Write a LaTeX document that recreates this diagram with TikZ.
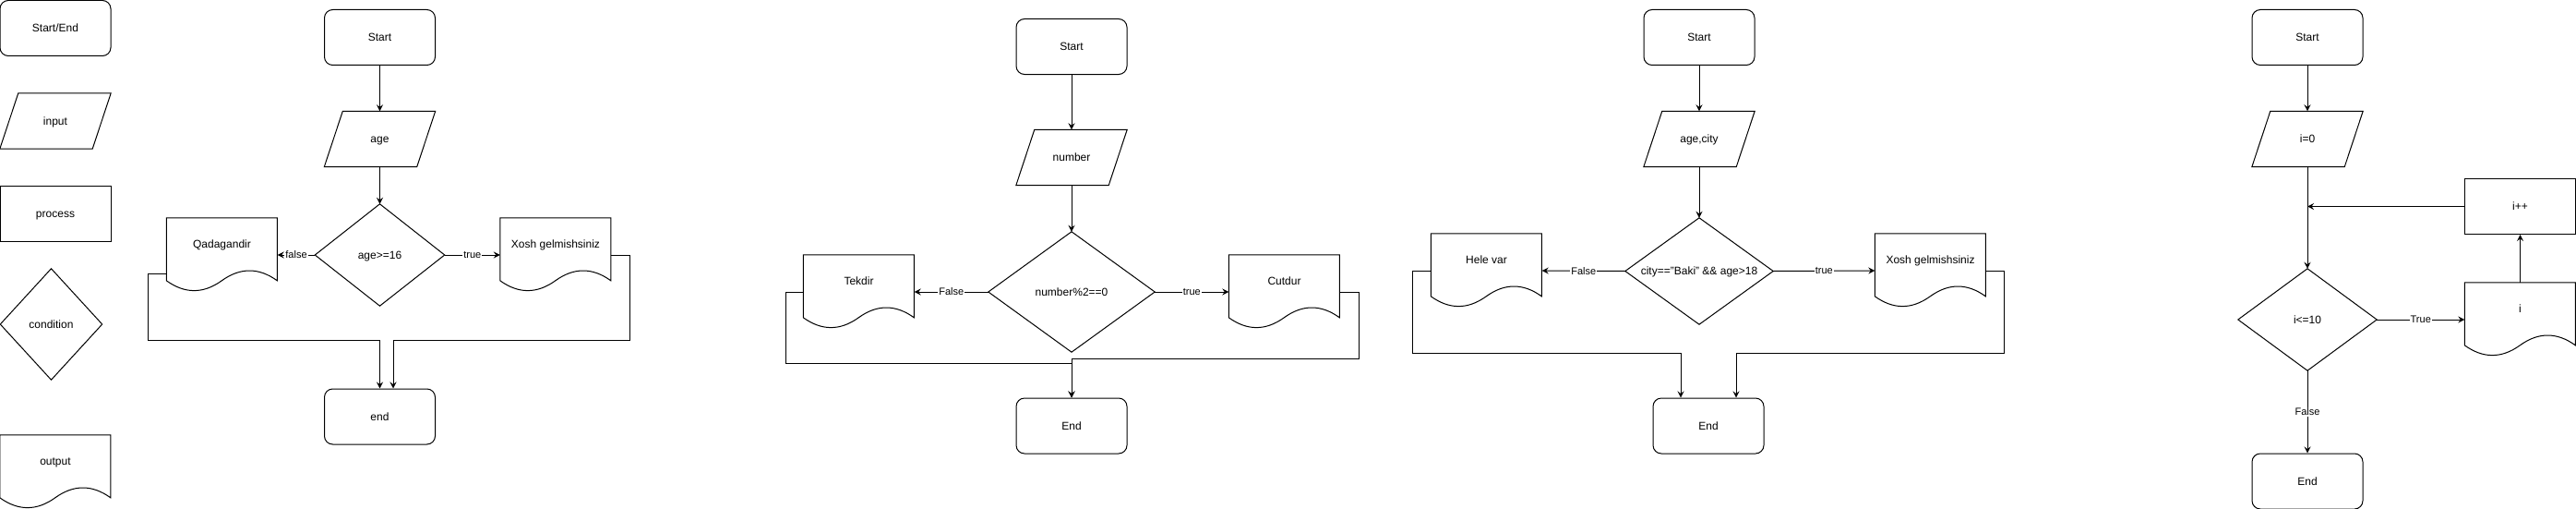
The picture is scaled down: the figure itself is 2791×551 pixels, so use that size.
\documentclass[tikz,border=0pt]{standalone}
\usepackage{fontspec}
\setmainfont{Liberation Sans}
\usetikzlibrary{arrows.meta}

\tikzset{
  txt/.style={font=\fontsize{12}{14}\selectfont, text height=8.5pt, text depth=0pt},
  box/.style={txt, draw, line width=1pt, minimum width=120pt, minimum height=60pt, inner sep=0pt},
  term/.style={box, rounded corners=9pt},
  proc/.style={box},
  iobox/.style={txt, minimum width=120pt, minimum height=60pt, inner sep=0pt},
  condbox/.style={txt, inner sep=0pt},
  docbox/.style={txt, text depth=24pt, minimum width=120pt, minimum height=80pt, inner sep=0pt},
  flow/.style={line width=1pt, -{Stealth[length=7pt,width=7pt,inset=2.5pt]}},
  lbl/.style={fill=white, inner sep=1pt, font=\fontsize{11}{13}\selectfont},
}

% outlines drawn round the named nodes
\newcommand{\ioshape}[1]{\draw[line width=1pt] (#1.south west) -- ([xshift=20pt]#1.north west) -- (#1.north east) -- ([xshift=-20pt]#1.south east) -- cycle;}
\newcommand{\condshape}[1]{\draw[line width=1pt] (#1.north) -- (#1.east) -- (#1.south) -- (#1.west) -- cycle;}
\newcommand{\docshape}[1]{\draw[line width=1pt,shift={(#1.north west)}] (0,0) -- (120,0) -- (120,68) .. controls (100,53.6) and (80,53.6) .. (60,68) .. controls (40,82.4) and (20,82.4) .. (0,68) -- cycle;}

\begin{document}
\begin{tikzpicture}[x=1pt,y=-1pt]
\useasboundingbox (0,0) rectangle (2791,551);

%LEGEND
\node[term] (lgterm) at (60,30.5) {Start/End};
\node[iobox] (lgin) at (60,131) {input};
\ioshape{lgin}
\node[proc] (lgproc) at (60,231) {process};
\node[condbox, minimum width=110pt, minimum height=120pt] (lgcond) at (55.5,351) {condition};
\condshape{lgcond}
\node[docbox] (lgout) at (60,511) {output};
\docshape{lgout}

%FLOWCHART 1
% nodes
\node[term] (st1) at (411.5,40.5) {Start};
\node[iobox] (in1) at (411.5,150.5) {age};
\ioshape{in1}
\node[condbox, minimum width=140pt, minimum height=110pt] (cond1) at (411.5,276) {age>=16};
\condshape{cond1}
\node[docbox] (no1) at (240.5,276) {Qadagandir};
\docshape{no1}
\node[docbox] (yes1) at (602,276) {Xosh gelmishsiniz};
\docshape{yes1}
\node[term] (end1) at (411.5,451) {end};
% arrows
\draw[flow] (st1) -- (in1);
\draw[flow] (in1) -- (cond1);
\draw[flow] (cond1.west) -- node[lbl] {false} (no1.east);
\draw[flow] (cond1.east) -- node[lbl] {true} (yes1.west);
\draw[flow] ([yshift=-20pt]no1.west) -| (160,368) -| (end1.north);
\draw[flow] (yes1.east) -| (682,368) -| ([xshift=14.5pt]end1.north);

%FLOWCHART 2
% nodes
\node[term] (st2) at (1161,50.5) {Start};
\node[iobox] (in2) at (1161,170.5) {number};
\ioshape{in2}
\node[condbox, minimum width=180pt, minimum height=130pt] (cond2) at (1161,316) {number\%2==0};
\condshape{cond2}
\node[docbox] (no2) at (930.5,316) {Tekdir};
\docshape{no2}
\node[docbox] (yes2) at (1391.5,316) {Cutdur};
\docshape{yes2}
\node[term] (end2) at (1161,461) {End};
% arrows
\draw[flow] (st2) -- (in2);
\draw[flow] (in2) -- (cond2);
\draw[flow] (cond2.west) -- node[lbl] {False} (no2.east);
\draw[flow] (cond2.east) -- node[lbl] {true} (yes2.west);
\draw[flow] (no2.west) -| (851,393) -| (end2.north);
\draw[flow] (yes2.east) -| (1472.5,388.5) -| (end2.north);

%FLOWCHART 3
% nodes
\node[term] (st3) at (1841,40.5) {Start};
\node[iobox] (in3) at (1841,150.5) {age,city};
\ioshape{in3}
\node[condbox, minimum width=160pt, minimum height=115pt] (cond3) at (1841,293.5) {city=="Baki" \&\& age>18};
\condshape{cond3}
\node[docbox] (no3) at (1610.5,293) {Hele var};
\docshape{no3}
\node[docbox] (yes3) at (2091.5,293) {Xosh gelmishsiniz};
\docshape{yes3}
\node[term] (end3) at (1851,461) {End};
% arrows
\draw[flow] (st3) -- (in3);
\draw[flow] (in3) -- (cond3);
\draw[flow] (cond3.west) -- node[lbl] {False} (no3.east);
\draw[flow] (cond3.east) -- node[lbl] {true} (yes3.west);
\draw[flow] (no3.west) -| (1530,382) -| ([xshift=-30pt]end3.north);
\draw[flow] (yes3.east) -| (2171.5,382) -| ([xshift=30pt]end3.north);

%FLOWCHART 4
% nodes
\node[term] (st4) at (2500,40.5) {Start};
\node[iobox] (in4) at (2500,150.5) {i=0};
\ioshape{in4}
\node[condbox, minimum width=150pt, minimum height=110pt] (cond4) at (2500,346) {i<=10};
\condshape{cond4}
\node[term] (end4) at (2500,521) {End};
\node[docbox] (out4) at (2730.5,346) {i};
\docshape{out4}
\node[proc] (inc4) at (2730.5,223.5) {i++};
\coordinate (join4) at (inc4.west -| in4.south);
% arrows
\draw[flow] (st4) -- (in4);
\draw[flow] (in4) -- (cond4);
\draw[flow] (cond4) -- node[lbl] {False} (end4);
\draw[flow] (cond4.east) -- node[lbl] {True} (out4.west);
\draw[flow] (out4) -- (inc4);
\draw[flow] (inc4.west) -- (join4);

\end{tikzpicture}
\end{document}
